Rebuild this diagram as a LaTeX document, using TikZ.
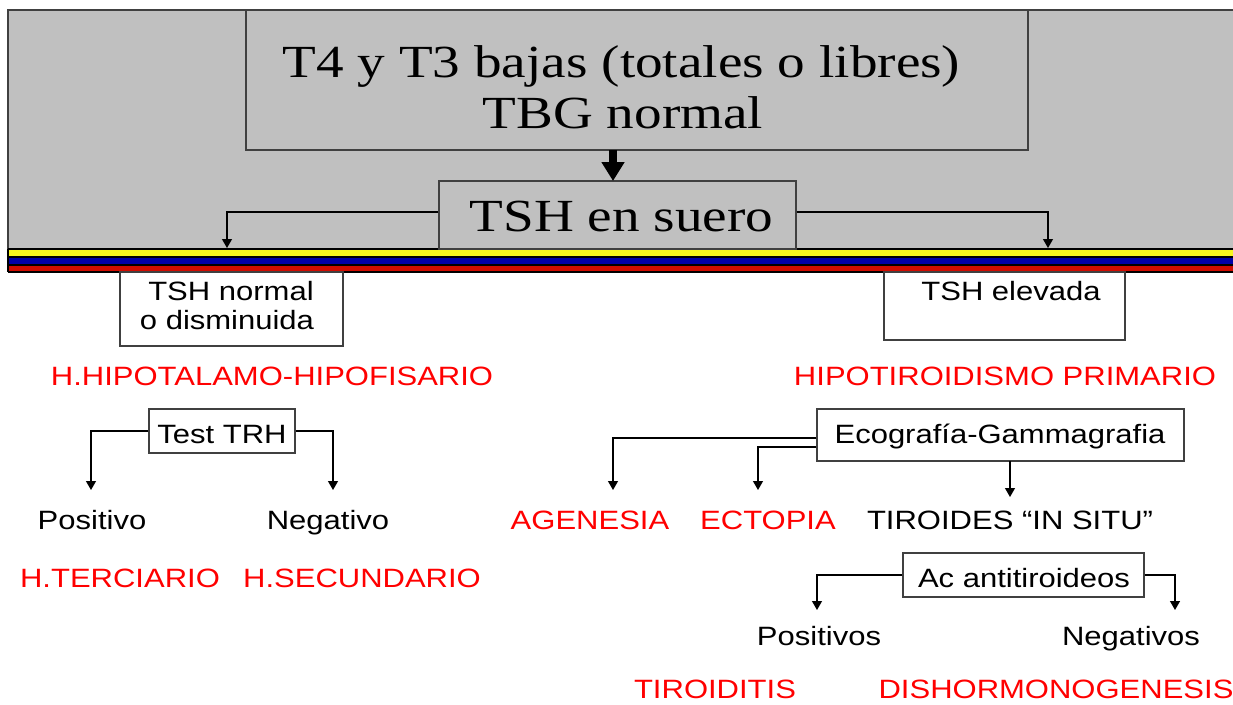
\documentclass[tikz,border=0pt]{standalone}
\usepackage{fontspec}
\setmainfont{Liberation Sans}[FakeStretch=1.17]
\newfontfamily\headfont{Liberation Serif}[FakeStretch=1.2]
\usetikzlibrary{arrows.meta}
\definecolor{bggray}{HTML}{C0C0C0}
\definecolor{boxgray}{HTML}{404040}
\definecolor{stripeyellow}{HTML}{F7F71E}
\definecolor{stripeblue}{HTML}{0000A8}
\definecolor{stripered}{HTML}{D00C00}
\definecolor{txtred}{HTML}{FF0000}
\begin{document}
\begin{tikzpicture}[x=1pt,y=-1pt,
  box/.style={draw=boxgray, line width=1.2pt, fill=white, inner sep=0pt},
  gbox/.style={draw=boxgray, line width=1.2pt, fill=bggray, inner sep=0pt},
  txt/.style={inner sep=0pt, anchor=base, font=\fontsize{26.5}{31}\selectfont},
  redtxt/.style={txt, text=txtred},
  head/.style={inner sep=0pt, anchor=base, font=\headfont\fontsize{46}{55}\selectfont},
  arr/.style={draw=black, line width=1.2pt, -{Triangle[length=9pt,width=10pt]}},
  bigarr/.style={draw=black, line width=8pt, -{Triangle[length=19pt,width=22pt]}}
]
% canvas
\fill[white] (0,0) rectangle (1233,704);
\useasboundingbox (0,0) rectangle (1233,704);
% gray header band
\fill[bggray] (8,10) rectangle (1233,249);
\draw[boxgray, line width=1.2pt] (8,249) -- (8,10) -- (1233,10);
% stripes
\fill[stripeyellow] (8,249) rectangle (1233,257);
\fill[stripeblue] (8,257) rectangle (1233,265);
\fill[stripered] (8,265) rectangle (1233,272);
\draw[black, line width=1.2pt] (8,249) -- (1233,249);
\draw[black, line width=1.2pt] (8,257) -- (1233,257);
\draw[black, line width=1.2pt] (8,265) -- (1233,265);
\draw[black, line width=1.2pt] (8,272) -- (1233,272);
\draw[black, line width=1.2pt] (8,249) -- (8,272);

% header boxes
\node[gbox, minimum width=782pt, minimum height=140pt] (top) at (637,80) {};
\node[head] (topA) at (621.5,77) {T4 y T3 bajas (totales o libres)};
\node[head] (topB) at (623,128) {TBG normal};
\node[gbox, minimum width=357pt, minimum height=68pt] (tsh) at (617.5,215) {};
\node[head] (tshT) at (621.5,231) {TSH en suero};

\coordinate (bigS) at (613,150);
\coordinate (bigE) at (613,181);
\draw[bigarr] (bigS) -- (bigE);

\coordinate (eL) at (227,248);
\coordinate (eR) at (1048,248);
\draw[arr] ([yshift=3pt]tsh.west) -| (eL);
\draw[arr] ([yshift=3pt]tsh.east) -| (eR);

% second level boxes
\node[box, minimum width=223pt, minimum height=74pt] (nbox) at (231.5,309) {};
\node[txt] (nT1) at (231,300) {TSH normal};
\node[txt] (nT2) at (227,329) {o disminuida};
\node[box, minimum width=241pt, minimum height=68pt] (ebox) at (1004.5,306) {};
\node[txt] (eT) at (1011,300) {TSH elevada};

\node[redtxt] (hh) at (272,385) {H.HIPOTALAMO-HIPOFISARIO};
\node[redtxt] (hp) at (1005,385) {HIPOTIROIDISMO PRIMARIO};

% left branch
\node[box, minimum width=146pt, minimum height=44pt] (trh) at (222,431) {};
\node[txt] (trhT) at (222,443) {Test TRH};
\coordinate (pL) at (91,490);
\coordinate (nL) at (333,490);
\draw[arr] (trh.west) -| (pL);
\draw[arr] (trh.east) -| (nL);
\node[txt] (pos) at (92,529) {Positivo};
\node[txt] (neg) at (328,529) {Negativo};
\node[redtxt] (ter) at (120,587) {H.TERCIARIO};
\node[redtxt] (sec) at (362,587) {H.SECUNDARIO};

% right branch
\node[box, minimum width=367pt, minimum height=52pt] (eco) at (1000.5,435) {};
\node[txt] (ecoT) at (1000,443) {Ecografía-Gammagrafia};
\coordinate (aE) at (613,490);
\coordinate (cE) at (758,490);
\coordinate (sS) at (1010,461);
\coordinate (sE) at (1010,497);
\draw[arr] ([yshift=-3pt]eco.west) -| (aE);
\draw[arr] ([yshift=-12pt]eco.west) -| (cE);
\draw[arr] (sS) -- (sE);
\node[redtxt] (age) at (590,529) {AGENESIA};
\node[redtxt] (ect) at (768,529) {ECTOPIA};
\node[txt] (situ) at (1010,529) {TIROIDES “IN SITU”};

\node[box, minimum width=241pt, minimum height=44pt] (ac) at (1023.5,575) {};
\node[txt] (acT) at (1024,587) {Ac antitiroideos};
\coordinate (pE) at (817,610);
\coordinate (nE) at (1175,610);
\draw[arr] (ac.west) -| (pE);
\draw[arr] (ac.east) -| (nE);
\node[txt] (poss) at (819,645) {Positivos};
\node[txt] (negs) at (1131,645) {Negativos};
\node[redtxt] (tir) at (715,698) {TIROIDITIS};
\node[redtxt] (dis) at (1056,698) {DISHORMONOGENESIS};
\end{tikzpicture}
\end{document}
